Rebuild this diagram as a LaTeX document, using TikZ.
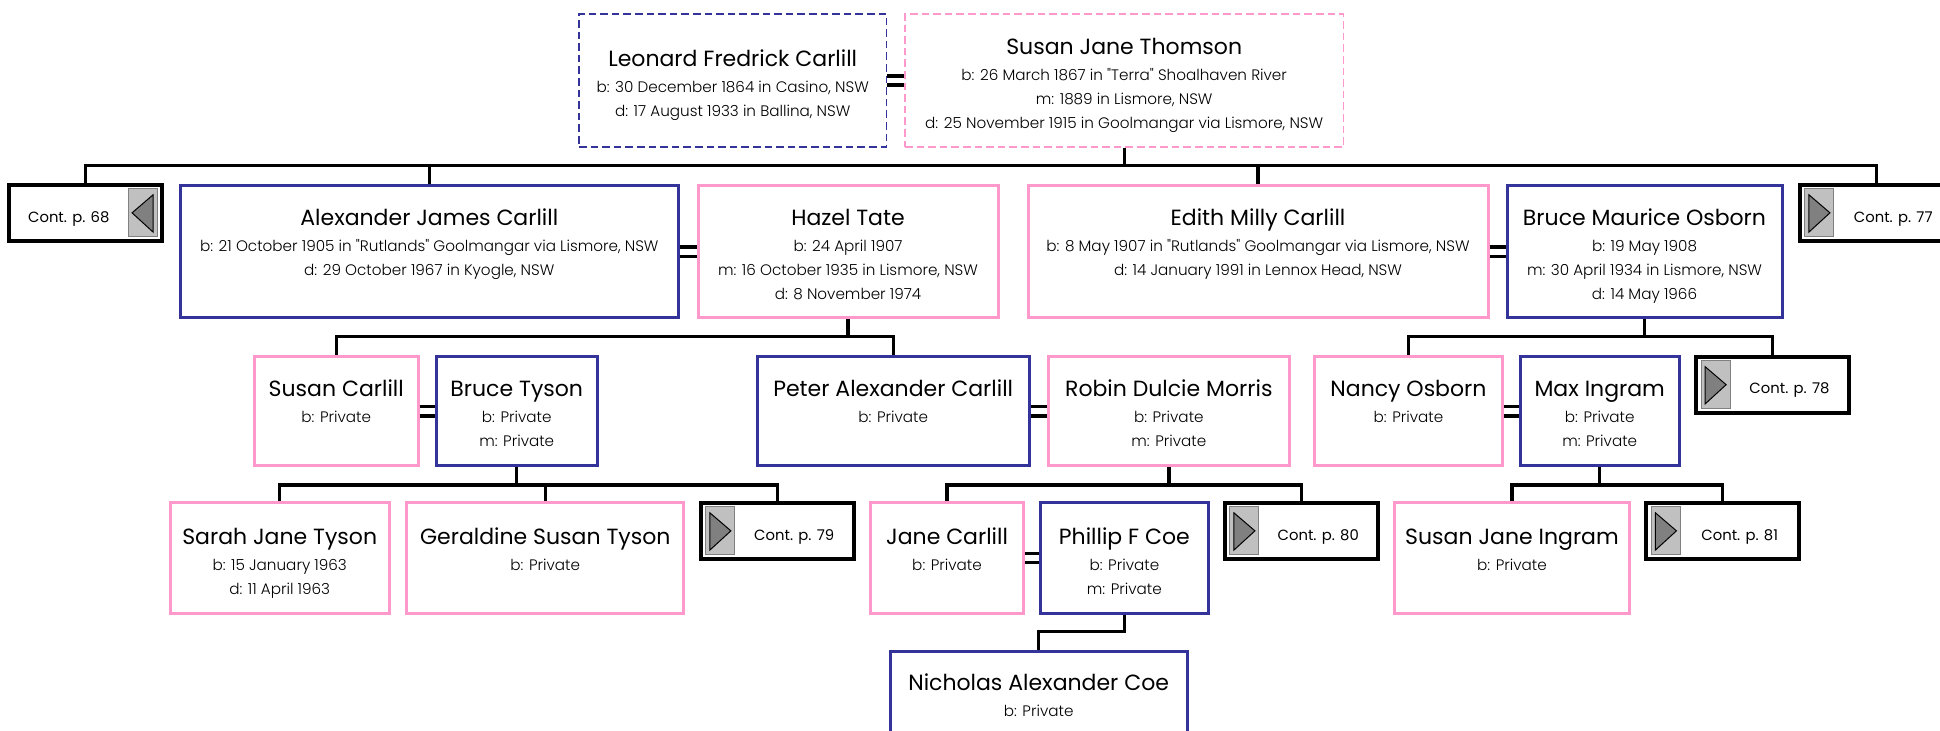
\documentclass[tikz,border=0pt]{standalone}
\usepackage{fontspec}
\newfontfamily\ppn{Poppins}
\newfontfamily\ppnlight{Poppins Light}
\definecolor{manblue}{HTML}{333399}
\definecolor{womanpink}{HTML}{FF99CC}
\definecolor{tabgrey}{HTML}{C0C0C0}
\definecolor{arrowgrey}{HTML}{808080}
\newcommand\namef{\ppn\fontsize{11}{13}\selectfont}
\newcommand\detf{\ppnlight\fontsize{7.6}{12}\selectfont}
\newcommand\contf{\ppn\fontsize{7.4}{9}\selectfont}
\newcommand\who[2]{\begin{tabular}[t]{@{}c@{}}{\namef #1}\\[1.1pt]\begin{tabular}[t]{@{}c@{}}#2\end{tabular}\end{tabular}}
\tikzset{man/.style={draw=manblue,line width=1.5pt,inner sep=0pt,font=\detf},
 woman/.style={draw=womanpink,line width=1.5pt,inner sep=0pt,font=\detf},
 dashbox/.style={line width=.75pt,dash pattern=on 3.8pt off 2pt},
 gen1/.style={text height=20pt,text depth=46pt},
 gen2/.style={text height=20pt,text depth=34.65pt},
 gen3/.style={text height=20.85pt,text depth=34.45pt},
 gen4/.style={text height=19.35pt,text depth=35.65pt},
 cont/.style={draw,line width=2pt,minimum width=76.3pt,minimum height=28pt,inner sep=0pt,
  text height=9.3pt,text depth=0pt,font=\contf},
 contR/.style={cont,execute at begin node=\hspace*{17pt},path picture={
  \draw[fill=tabgrey,draw=arrowgrey,line width=.5pt]([xshift=2.5pt,yshift=-2pt]path picture bounding box.north west)rectangle([xshift=17pt,yshift=2pt]path picture bounding box.south west);
  \draw[fill=arrowgrey,line width=.5pt]([xshift=4.5pt,yshift=-5pt]path picture bounding box.north west)--([xshift=15pt]path picture bounding box.west)--([xshift=4.5pt,yshift=4.4pt]path picture bounding box.south west)--cycle;}},
 contL/.style={cont,execute at end node=\hspace*{17pt},path picture={
  \draw[fill=tabgrey,draw=arrowgrey,line width=.5pt]([xshift=-2.5pt,yshift=-2pt]path picture bounding box.north east)rectangle([xshift=-17pt,yshift=2pt]path picture bounding box.south east);
  \draw[fill=arrowgrey,line width=.5pt]([xshift=-4.5pt,yshift=-5pt]path picture bounding box.north east)--([xshift=-15pt]path picture bounding box.east)--([xshift=-4.5pt,yshift=4.4pt]path picture bounding box.south east)--cycle;}},
 wire/.style={line width=1.7pt}}
\begin{document}
\begin{tikzpicture}[x=.5pt,y=-.5pt]
\useasboundingbox(0,0)rectangle(1940,731);
\clip(0,0)rectangle(1940,731);
% parents
\node[man,dashbox,minimum width=153.75pt,text height=26.35pt,text depth=40.15pt](leo) at(732.7,80.5)
 {\who{Leonard Fredrick Carlill}{b: 30 December 1864 in Casino, NSW\\d: 17 August 1933 in Ballina, NSW}};
\node[woman,dashbox,minimum width=219.3pt,text height=20.35pt,text depth=46.15pt](sjt) at(1124.2,80.5)
 {\who{Susan Jane Thomson}{b: 26 March 1867 in "Terra" Shoalhaven River\\m: 1889 in Lismore, NSW\\d: 25 November 1915 in Goolmangar via Lismore, NSW}};
% children
\node[contL](c68) at(85.75,212.85){Cont. p. 68};
\node[man,gen1,minimum width=249.3pt](alex) at(429.3,251.7)
 {\who{Alexander James Carlill}{b: 21 October 1905 in "Rutlands" Goolmangar via Lismore, NSW\\d: 29 October 1967 in Kyogle, NSW}};
\node[woman,gen1,minimum width=150pt](hazel) at(848,251.7)
 {\who{Hazel Tate}{b: 24 April 1907\\m: 16 October 1935 in Lismore, NSW\\d: 8 November 1974}};
\node[woman,gen1,minimum width=230pt](edith) at(1258,251.7)
 {\who{Edith Milly Carlill}{b: 8 May 1907 in "Rutlands" Goolmangar via Lismore, NSW\\d: 14 January 1991 in Lennox Head, NSW}};
\node[man,gen1,minimum width=137.5pt](bmo) at(1644.5,251.7)
 {\who{Bruce Maurice Osborn}{b: 19 May 1908\\m: 30 April 1934 in Lismore, NSW\\d: 14 May 1966}};
\node[contR](c77) at(1876.25,212.85){Cont. p. 77};
% grandchildren
\node[woman,gen2,minimum width=81.75pt](susc) at(336.25,411.35){\who{Susan Carlill}{b: Private}};
\node[man,gen2,minimum width=80.25pt](bty) at(516.75,411.35){\who{Bruce Tyson}{b: Private\\m: Private}};
\node[man,gen2,minimum width=136.2pt](peter) at(893.2,411.35){\who{Peter Alexander Carlill}{b: Private}};
\node[woman,gen2,minimum width=120.8pt](robin) at(1168.8,411.35){\who{Robin Dulcie Morris}{b: Private\\m: Private}};
\node[woman,gen2,minimum width=93.95pt](nancy) at(1408.45,411.35){\who{Nancy Osborn}{b: Private}};
\node[man,gen2,minimum width=79.3pt](max) at(1599.7,411.35){\who{Max Ingram}{b: Private\\m: Private}};
\node[contR](c78) at(1772.45,384.7){Cont. p. 78};
% great-grandchildren
\node[woman,gen3,minimum width=109.7pt](sarah) at(279.7,558){\who{Sarah Jane Tyson}{b: 15 January 1963\\d: 11 April 1963}};
\node[woman,gen3,minimum width=138.65pt](geral) at(545.25,558){\who{Geraldine Susan Tyson}{b: Private}};
\node[contR](c79) at(777.2,530.85){Cont. p. 79};
\node[woman,gen3,minimum width=76.65pt](jane) at(947.05,558){\who{Jane Carlill}{b: Private}};
\node[man,gen3,minimum width=83.6pt](phil) at(1124.4,558){\who{Phillip F Coe}{b: Private\\m: Private}};
\node[contR](c80) at(1301.25,530.85){Cont. p. 80};
\node[woman,gen3,minimum width=117.5pt](sji) at(1512,558){\who{Susan Jane Ingram}{b: Private}};
\node[contR](c81) at(1722.75,530.85){Cont. p. 81};
\node[man,gen4,minimum width=148.65pt](nich) at(1038.65,706.7){\who{Nicholas Alexander Coe}{b: Private}};
% lines of descent
\coordinate(bus1) at(0,165.7);
\coordinate(bus2) at(0,336.7);
\coordinate(bus3) at(0,485);
\coordinate(bus4) at(0,631.7);
\draw[wire](sjt.south)--(sjt.south|-bus1);
\draw[wire](c68.north)|-(c77.north|-bus1)--(c77.north);
\foreach \k in {alex,edith}\draw[wire](\k.north)--(\k.north|-bus1);
\draw[wire](hazel.south)--(hazel.south|-bus2);
\draw[wire](susc.north)|-(peter.north|-bus2)--(peter.north);
\draw[wire](bmo.south)--(bmo.south|-bus2);
\draw[wire](nancy.north)|-(c78.north|-bus2)--(c78.north);
\draw[wire](bty.south)--(bty.south|-bus3);
\draw[wire](sarah.north)|-(c79.north|-bus3)--(c79.north);
\draw[wire](geral.north)--(geral.north|-bus3);
\draw[wire](robin.south)--(robin.south|-bus3);
\draw[wire](jane.north)|-(c80.north|-bus3)--(c80.north);
\draw[wire](max.south)--(max.south|-bus3);
\draw[wire](sji.north)|-(c81.north|-bus3)--(c81.north);
\draw[wire](phil.south)--(phil.south|-bus4)-|(nich.north);
% marriages
\foreach \a/\b in {leo/sjt,alex/hazel,edith/bmo,susc/bty,peter/robin,nancy/max,jane/phil}{
 \draw[wire]([yshift=2.3pt]\a.east)--([yshift=2.3pt]\b.west);
 \draw[wire]([yshift=-2.3pt]\a.east)--([yshift=-2.3pt]\b.west);}
\end{tikzpicture}
\end{document}
